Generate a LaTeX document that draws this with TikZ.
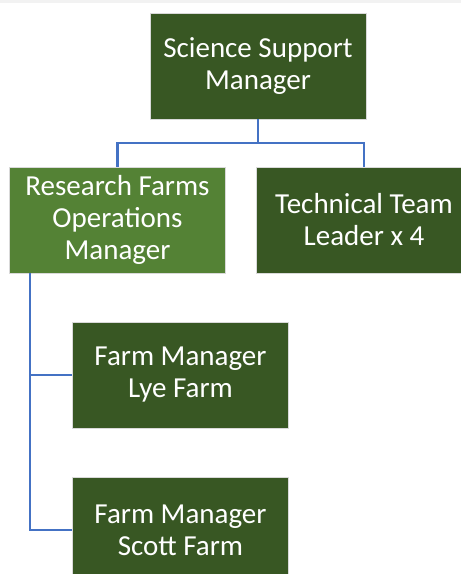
\documentclass[tikz,border=0pt]{standalone}
\usepackage{fontspec}
\setmainfont{Carlito}
\usetikzlibrary{positioning}
\definecolor{DeepGreen}{HTML}{385723}
\definecolor{LeafGreen}{HTML}{548235}
\definecolor{LinkBlue}{HTML}{4472C4}
\definecolor{StripGray}{HTML}{F2F2F2}

\begin{document}
\begin{tikzpicture}[x=1pt, y=-1pt,
  role/.style  = {draw=white!85!black, line width=0.6pt, fill=DeepGreen,
                  minimum width=216pt, minimum height=106pt, inner sep=2pt,
                  text=white, align=center,
                  font=\fontsize{29}{32}\selectfont},
  lead/.style  = {role, fill=LeafGreen},
  link/.style  = {draw=LinkBlue, line width=2.4pt}
]
  \useasboundingbox (0,0) rectangle (461,574);
  \fill[StripGray] (0,0) rectangle (461,3);

  \node[role] (ssm)   at (258,66)    {Science Support\\Manager};
  \node[lead] (rfom)  at (117.5,220) {Research Farms\\Operations\\Manager};
  \node[role] (ttl)   at (364,220)   {Technical Team\\Leader x 4};
  \node[role] (lye)   at (180.5,375) {Farm Manager\\Lye Farm};
  \node[role] (scott) at (180.5,530) {Farm Manager\\Scott Farm};

  % top level branches
  \coordinate (fork) at (258,143);
  \draw[link] (ssm.south) -- (fork);
  \draw[link] (fork) -| (rfom.north);
  \draw[link] (fork) -| (ttl.north);

  % farm managers hang off a spine on the left
  \coordinate (spine) at ([xshift=21pt]rfom.south west);
  \draw[link] (spine) |- (lye.west);
  \draw[link] (spine) |- (scott.west);
\end{tikzpicture}
\end{document}
